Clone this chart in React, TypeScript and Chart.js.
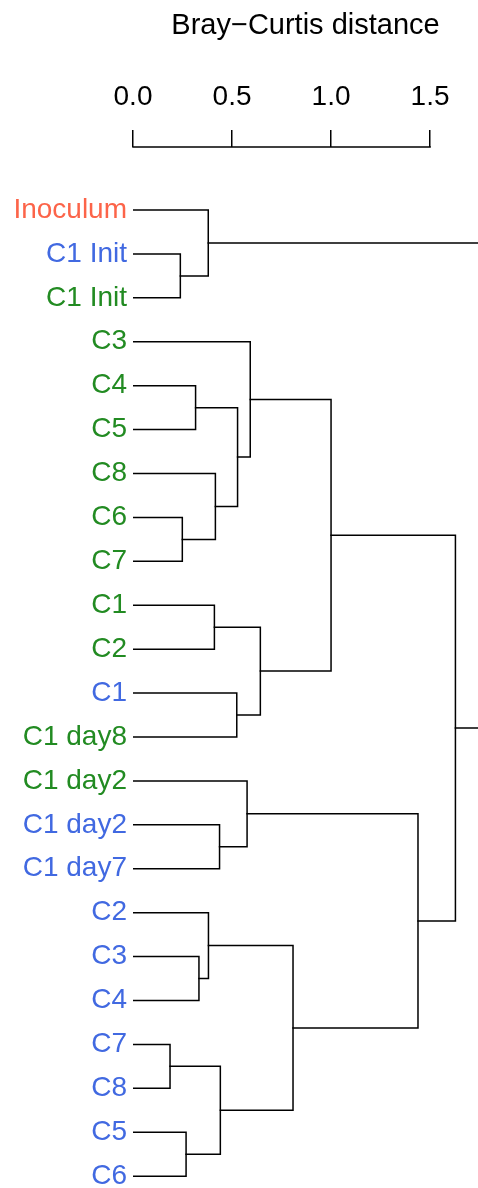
import React, { useEffect, useRef } from "react";
import { Chart, registerables } from "chart.js";
Chart.register(...registerables);

// Leaves, top to bottom
const leafLabels = [
  "Inoculum", "C1 Init", "C1 Init", "C3", "C4", "C5", "C8", "C6", "C7",
  "C1", "C2", "C1", "C1 day8", "C1 day2", "C1 day2", "C1 day7",
  "C2", "C3", "C4", "C7", "C8", "C5", "C6",
];
const leafGroups = [
  "inoc", "blue", "green", "green", "green", "green", "green", "green", "green",
  "green", "green", "blue", "green", "green", "blue", "blue",
  "blue", "blue", "blue", "blue", "blue", "blue", "blue",
];
const groupColors: Record<string, string> = {
  inoc: "#FC6449",
  blue: "#4169E1",
  green: "#228B22",
};

// Merges: node ids 0..22 are leaves, merge k creates node 23 + k
const mergeLeft = [1, 0, 4, 7, 6, 25, 3, 9, 11, 30, 29, 14, 13, 17, 16, 19, 21, 38, 37, 35, 33, 24];
const mergeRight = [2, 23, 5, 8, 26, 27, 28, 10, 12, 31, 32, 15, 34, 18, 36, 20, 22, 39, 40, 41, 42, 43];
const mergeHeight = [0.239, 0.38, 0.316, 0.249, 0.416, 0.528, 0.592, 0.411, 0.524, 0.643, 1.0, 0.437, 0.576, 0.333, 0.381, 0.187, 0.268, 0.441, 0.808, 1.439, 1.628, 1.95];

const xTicks = [0, 0.5, 1.0, 1.5];
const xTitle = "Bray\u2212Curtis distance";

const FONT = "'Liberation Sans', Arial, Helvetica, sans-serif";

export default function App() {
  const ref = useRef<HTMLCanvasElement | null>(null);

  useEffect(() => {
    document.body.style.margin = "0";
    const n = leafLabels.length;
    const nodeY: number[] = leafLabels.map((_, i) => i);
    const nodeH: number[] = leafLabels.map(() => 0);
    mergeLeft.forEach((l, k) => {
      const r = mergeRight[k];
      nodeY[n + k] = (nodeY[l] + nodeY[r]) / 2;
      nodeH[n + k] = mergeHeight[k];
    });
    const datasets = mergeLeft.map((l, k) => {
      const r = mergeRight[k];
      const h = mergeHeight[k];
      return {
        data: [
          { x: nodeH[l], y: nodeY[l] },
          { x: h, y: nodeY[l] },
          { x: h, y: nodeY[r] },
          { x: nodeH[r], y: nodeY[r] },
        ],
        borderColor: "#000",
        borderWidth: 1.5,
        pointRadius: 0,
        fill: false,
        tension: 0,
        borderCapStyle: "square" as const,
        borderJoinStyle: "miter" as const,
      };
    });

    const baseline = {
      id: "baseline",
      afterDraw(chart: any) {
        const xs = chart.scales.x;
        const ctx = chart.ctx;
        ctx.save();
        ctx.strokeStyle = "#000";
        ctx.lineWidth = 1.5;
        ctx.beginPath();
        const y = xs.bottom;
        ctx.moveTo(xs.getPixelForValue(xTicks[0]) - 0.75, y);
        ctx.lineTo(xs.getPixelForValue(xTicks[xTicks.length - 1]) + 0.75, y);
        ctx.stroke();
        ctx.restore();
      },
    };

    const chart = new Chart(ref.current!, {
      type: "line",
      data: { datasets: datasets as any },
      options: {
        animation: false,
        responsive: false,
        layout: { padding: 0 },
        plugins: { legend: { display: false }, tooltip: { enabled: false } },
        scales: {
          x: {
            type: "linear",
            position: "top",
            min: 0,
            max: 1.742,
            afterBuildTicks: (s: any) => {
              s.ticks = xTicks.map((v) => ({ value: v }));
            },
            afterFit: (s: any) => {
              s.height = 147;
              s.paddingLeft = 0;
              s.paddingRight = 0;
            },
            ticks: {
              color: "#000",
              font: { family: FONT, size: 28 },
              padding: 16,
              maxRotation: 0,
              autoSkip: false,
              callback: (v: any) => Number(v).toFixed(1),
            },
            grid: {
              display: true,
              drawOnChartArea: false,
              drawTicks: true,
              tickLength: 17,
              color: "#000",
              lineWidth: 1.5,
            },
            border: { display: false },
            title: {
              display: true,
              text: xTitle,
              color: "#000",
              font: { family: FONT, size: 29 },
              padding: { top: 9, bottom: 0 },
            },
          },
          y: {
            type: "linear",
            position: "left",
            reverse: true,
            min: -1.435,
            max: 22.27,
            afterBuildTicks: (s: any) => {
              s.ticks = leafLabels.map((_, i) => ({ value: i }));
            },
            afterFit: (s: any) => {
              s.width = 133;
              s.paddingTop = 0;
              s.paddingBottom = 0;
            },
            ticks: {
              autoSkip: false,
              padding: 6,
              font: { family: FONT, size: 28 },
              color: (c: any) => groupColors[leafGroups[c.tick?.value ?? c.index]] || "#000",
              callback: (v: any) => leafLabels[Math.round(Number(v))] ?? "",
            },
            grid: { display: false, drawTicks: false, tickLength: 0 },
            border: { display: false },
          },
        },
      },
      plugins: [baseline],
    });
    return () => chart.destroy();
  }, []);

  return (
    <canvas
      ref={ref}
      width={478}
      height={1188}
      style={{ display: "block", width: 478, height: 1188 }}
    />
  );
}
